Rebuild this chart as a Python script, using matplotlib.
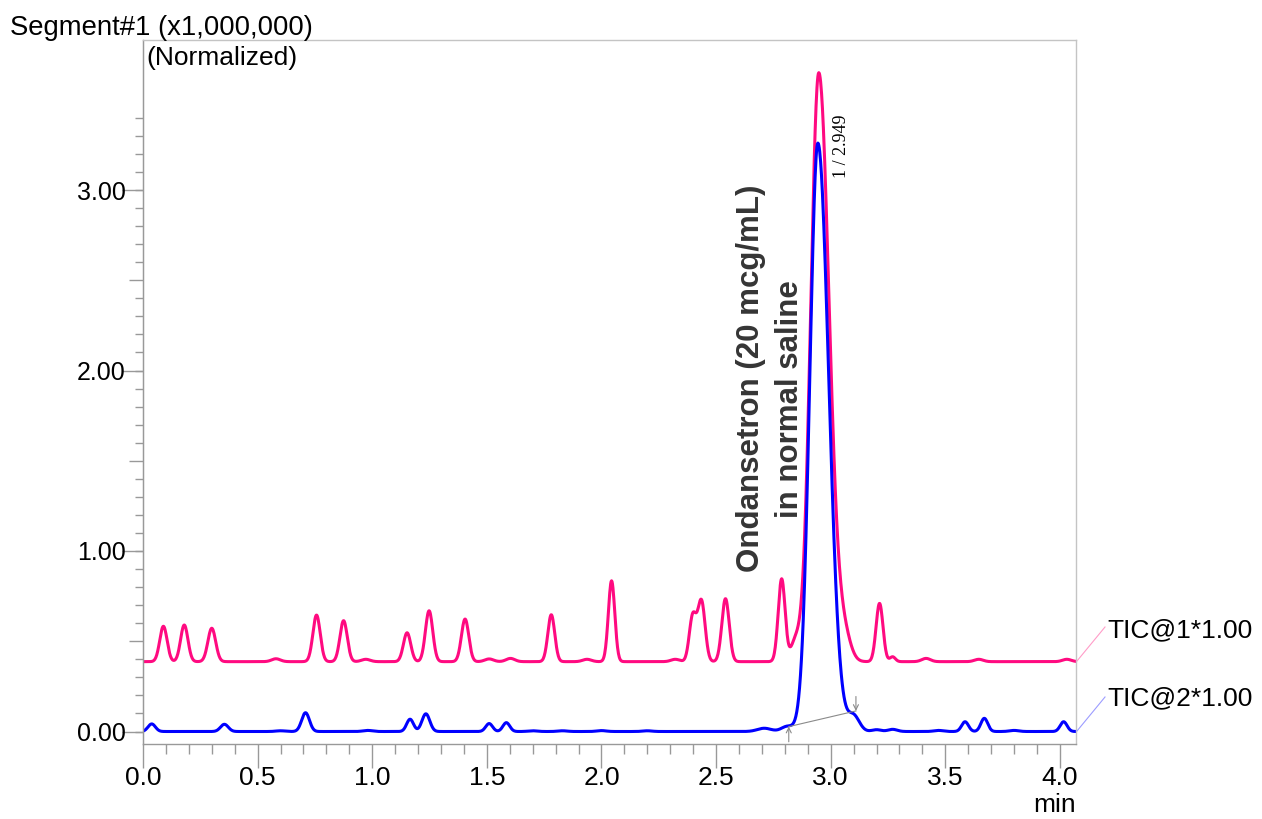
import numpy as np
import matplotlib
matplotlib.use('Agg')
import matplotlib.pyplot as plt
from matplotlib.ticker import FixedLocator, NullLocator, NullFormatter
from matplotlib.lines import Line2D

plt.rcParams['font.family'] = ['Liberation Sans', 'DejaVu Sans']

# ---------------- data (peak tables) ----------------
# TIC@1 (pink): baseline plus peaks (retention time, height above baseline, width)
tic1_baseline = 0.387
tic1_rt     = [0.089, 0.180, 0.300, 0.580, 0.757, 0.875, 0.972, 1.152, 1.248, 1.405,
               1.510, 1.603, 1.781, 1.937, 2.044, 2.322, 2.398, 2.436, 2.541, 2.786,
               2.845, 3.060, 3.213, 3.270, 3.416, 3.646, 4.030]
tic1_height = [0.196, 0.203, 0.185, 0.016, 0.258, 0.227, 0.013, 0.160, 0.282, 0.236,
               0.015, 0.018, 0.260, 0.013, 0.448, 0.013, 0.250, 0.335, 0.349, 0.458,
               0.100, 0.120, 0.323, 0.027, 0.018, 0.013, 0.013]
tic1_sigma  = [0.016, 0.016, 0.017, 0.019, 0.016, 0.016, 0.019, 0.016, 0.016, 0.016,
               0.019, 0.019, 0.015, 0.019, 0.014, 0.019, 0.015, 0.016, 0.016, 0.015,
               0.020, 0.028, 0.015, 0.012, 0.019, 0.019, 0.019]
tic1_main = dict(rt=2.948, height=3.263, sigma_left=0.035, sigma_right=0.045)

# TIC@2 (blue)
tic2_baseline = 0.0
tic2_rt     = [0.038, 0.355, 0.600, 0.709, 0.980, 1.165, 1.234, 1.510, 1.585, 1.700,
               1.830, 2.000, 2.200, 2.710, 2.810, 3.100, 3.200, 3.270, 3.470, 3.586,
               3.670, 3.800, 4.016]
tic2_height = [0.042, 0.040, 0.004, 0.104, 0.006, 0.068, 0.098, 0.044, 0.049, 0.004,
               0.004, 0.005, 0.004, 0.018, 0.028, 0.085, 0.010, 0.012, 0.006, 0.054,
               0.073, 0.006, 0.054]
tic2_sigma  = [0.016, 0.017, 0.020, 0.017, 0.020, 0.015, 0.017, 0.015, 0.015, 0.020,
               0.020, 0.020, 0.020, 0.030, 0.025, 0.025, 0.020, 0.020, 0.020, 0.015,
               0.015, 0.020, 0.015]
tic2_main = dict(rt=2.944, height=3.260, sigma_left=0.035, sigma_right=0.047)

x_ticks = [0.0, 0.5, 1.0, 1.5, 2.0, 2.5, 3.0, 3.5, 4.0]
x_tick_labels = ['0.0', '0.5', '1.0', '1.5', '2.0', '2.5', '3.0', '3.5', '4.0']
y_ticks = [0.0, 1.0, 2.0, 3.0]
y_tick_labels = ['0.00', '1.00', '2.00', '3.00']

trace_labels = ['TIC@1*1.00', 'TIC@2*1.00']
peak_label = '1 / 2.949'
sample_label = ['Ondansetron (20 mcg/mL)', 'in normal saline']

# integration baseline marker of the main peak (start / end)
int_start = (2.817, 0.027)
int_end = (3.110, 0.114)

# ---------------- build traces from peak tables ----------------
t = np.arange(0.0, 4.0701, 0.002)


def build(base, rts, hs, sigs, main):
    y = np.full_like(t, base)
    for rt, h, s in zip(rts, hs, sigs):
        y += h * np.exp(-0.5 * ((t - rt) / s) ** 2)
    s = np.where(t < main['rt'], main['sigma_left'], main['sigma_right'])
    y += main['height'] * np.exp(-0.5 * ((t - main['rt']) / s) ** 2)
    return y


y1 = build(tic1_baseline, tic1_rt, tic1_height, tic1_sigma, tic1_main)
y2 = build(tic2_baseline, tic2_rt, tic2_height, tic2_sigma, tic2_main)

# ---------------- figure ----------------
W, H = 1262, 819
fig = plt.figure(figsize=(W / 100, H / 100), dpi=100)


def fx(x):
    return x / W


def fy(y):
    return 1 - y / H


ax = fig.add_axes([fx(143), fy(744), fx(1076) - fx(143), fy(40) - fy(744)])
ax.set_xlim(0, 4.07)
y0_px, unit_px = 731.5, 180.5
ax.set_ylim((y0_px - 744) / unit_px, (y0_px - 40) / unit_px)

pink = '#FF0A80'
blue = '#0000FF'
ax.plot(t, y1, color=pink, lw=2.2, solid_joinstyle='round')
ax.plot(t, y2, color=blue, lw=2.2, solid_joinstyle='round')

for side in ['left', 'bottom']:
    ax.spines[side].set_color('#999999')
    ax.spines[side].set_linewidth(1.0)
for side in ['top', 'right']:
    ax.spines[side].set_color('#c4c4c4')
    ax.spines[side].set_linewidth(1.0)

# x ticks
ax.set_xticks(x_ticks, x_tick_labels)
ax.xaxis.set_minor_locator(FixedLocator(np.round(np.arange(0, 4.001, 0.1), 2)))
ax.tick_params(axis='x', which='major', length=17, width=1, color='#999999',
               labelsize=19, pad=-1)
ax.tick_params(axis='x', which='minor', length=7, width=1, color='#999999')

# y ticks: medium (0.5) and minor (0.1) on main axis, labelled majors on secondary
ax.yaxis.set_major_locator(FixedLocator([0.5, 1.5, 2.5]))
ax.yaxis.set_major_formatter(NullFormatter())
ax.yaxis.set_minor_locator(FixedLocator(np.round(np.arange(0, 3.401, 0.1), 2)))
ax.tick_params(axis='y', which='major', length=10, width=1, color='#999999')
ax.tick_params(axis='y', which='minor', length=6, width=1, color='#999999')

sec = ax.secondary_yaxis('left')
sec.set_yticks(y_ticks, y_tick_labels)
sec.yaxis.set_minor_locator(NullLocator())
sec.tick_params(axis='y', which='major', length=15, width=1, color='#999999',
                labelsize=18, pad=-2.5)
sec.spines['left'].set_color('#999999')

# integration baseline with arrow marks
gray = '#8a8a8a'
ax.plot([int_start[0], int_end[0]], [int_start[1], int_end[1]], color=gray, lw=0.8)
ax.annotate('', xy=int_start, xytext=(int_start[0], int_start[1] - 0.084),
            arrowprops=dict(arrowstyle='->', color=gray, lw=0.8, shrinkA=0, shrinkB=0,
                            mutation_scale=9), annotation_clip=False)
ax.annotate('', xy=int_end, xytext=(int_end[0], int_end[1] + 0.08),
            arrowprops=dict(arrowstyle='->', color=gray, lw=0.8, shrinkA=0, shrinkB=0,
                            mutation_scale=9), annotation_clip=False)

# texts
fig.text(fx(10), fy(35), 'Segment#1 (x1,000,000)', fontsize=19.8, va='baseline',
         ha='left', color='black')
fig.text(fx(146), fy(65), '(Normalized)', fontsize=19, va='baseline', ha='left',
         color='black')
fig.text(fx(1076), fy(812), 'min', fontsize=19, va='baseline', ha='right', color='black')

fig.text(fx(759.5), fy(378.5), sample_label[0], fontsize=22.5, fontweight='bold',
         rotation=90, rotation_mode='anchor', ha='center', va='baseline', color='#353535')
fig.text(fx(798), fy(399), sample_label[1], fontsize=22.5, fontweight='bold',
         rotation=90, rotation_mode='anchor', ha='center', va='baseline', color='#353535')

fig.text(fx(846), fy(146.5), peak_label, fontsize=13, family=['Liberation Serif'],
         rotation=90, rotation_mode='anchor', ha='center', va='baseline', color='black')

# trace labels with connector lines
fig.text(fx(1107), fy(630), trace_labels[0], fontsize=19, va='center', ha='left')
fig.text(fx(1107), fy(698), trace_labels[1], fontsize=19, va='center', ha='left')
fig.add_artist(Line2D([fx(1077), fx(1105)], [fy(661), fy(627)], color='#ff9cc8', lw=0.8))
fig.add_artist(Line2D([fx(1077), fx(1105)], [fy(731), fy(697)], color='#9c9cff', lw=0.8))

fig.savefig('out.png', dpi=100)
